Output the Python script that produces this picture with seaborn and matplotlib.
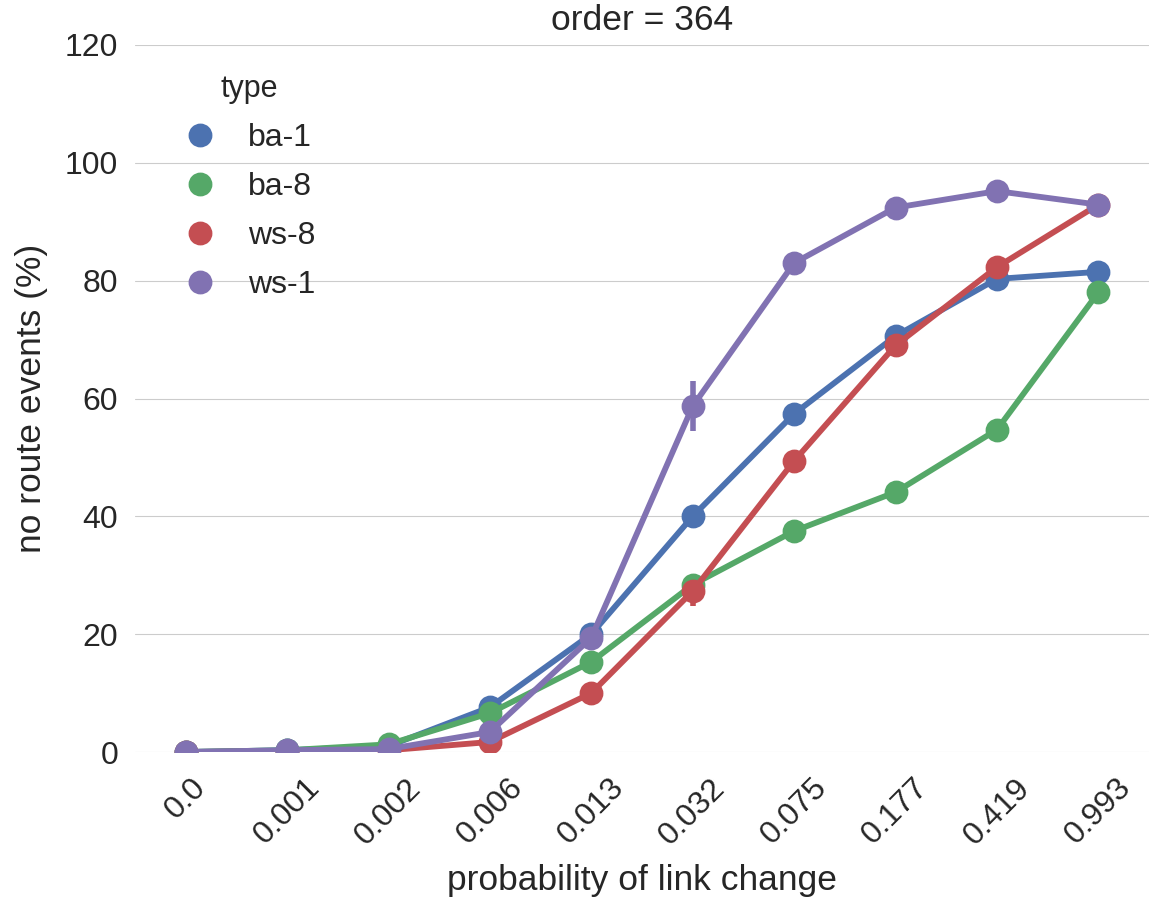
import numpy as np
import pandas as pd
import matplotlib
matplotlib.use("Agg")
import matplotlib.pyplot as plt
import seaborn as sns

probs = ["0.0", "0.001", "0.002", "0.006", "0.013", "0.032", "0.075", "0.177", "0.419", "0.993"]
types = ["ba-1", "ba-8", "ws-8", "ws-1"]

ba1 = [0.0, 0.3, 1.0, 7.6, 20.0, 40.0, 57.4, 70.6, 80.3, 81.5]
ba8 = [0.0, 0.3, 1.3, 6.6, 15.3, 28.4, 37.5, 44.1, 54.7, 78.0]
ws8 = [0.0, 0.1, 0.3, 1.7, 10.0, 27.3, 49.4, 69.0, 82.3, 92.9]
ws1 = [0.0, 0.3, 0.5, 3.4, 19.4, 58.7, 83.0, 92.4, 95.2, 92.9]

err_ba1 = [0, 0, 0, 0.5, 0.8, 0.8, 0.8, 0.8, 0.6, 0.5]
err_ba8 = [0, 0, 0, 0.5, 0.8, 1.2, 0.8, 0.8, 0.8, 0.6]
err_ws8 = [0, 0, 0, 0.4, 0.8, 2.5, 1.0, 0.8, 0.6, 0.4]
err_ws1 = [0, 0, 0, 0.5, 1.0, 4.2, 1.0, 0.6, 0.4, 0.4]

colors = ["#4C72B0", "#55A868", "#C44E52", "#8172B2"]

series = {"ba-1": ba1, "ba-8": ba8, "ws-8": ws8, "ws-1": ws1}
errs = {"ba-1": err_ba1, "ba-8": err_ba8, "ws-8": err_ws8, "ws-1": err_ws1}

rows = []
for t in types:
    for p, v in zip(probs, series[t]):
        rows.append({"probability of link change": p, "no route events (%)": v, "type": t})
df = pd.DataFrame(rows)

sns.set_style("whitegrid", {"grid.color": "#cccccc", "axes.edgecolor": "white"})
plt.rcParams["font.family"] = ["Liberation Sans", "DejaVu Sans"]

fig = plt.figure(figsize=(11.51, 9.01), dpi=100)
ax = fig.add_axes([135 / 1151, 1 - 752 / 901, (1149 - 135) / 1151, (752 - 45) / 901])

sns.pointplot(data=df, x="probability of link change", y="no route events (%)", hue="type",
              order=probs, hue_order=types, palette=colors, errorbar=None,
              markersize=14, linewidth=4.2, ax=ax)

for i, t in enumerate(types):
    m = np.array(series[t])
    e = np.array(errs[t])
    ax.vlines(np.arange(len(probs)), m - e, m + e, color=colors[i], linewidth=4, zorder=1)

for art in ax.lines + list(ax.collections):
    art.set_clip_on(True)
    art.set_clip_path(ax.patch)

ax.set_ylim(0, 120)
ax.set_xlim(-0.5, len(probs) - 0.5)
ax.set_yticks([0, 20, 40, 60, 80, 100, 120])
for s in ax.spines.values():
    s.set_visible(False)
ax.grid(axis="x", visible=False)
ax.tick_params(axis="both", length=0, labelsize=23, colors="#262626")
ax.tick_params(axis="y", pad=12)
ax.tick_params(axis="x", pad=15)
plt.setp(ax.get_xticklabels(), rotation=45)
ax.set_xlabel("probability of link change", fontsize=25.5, color="#262626", labelpad=10)
ax.set_ylabel("no route events (%)", fontsize=25.5, color="#262626", labelpad=12)
ax.set_title("order = 364", fontsize=25.5, color="#262626", pad=11)

leg = ax.legend(title="type", loc="upper left", bbox_to_anchor=(0.02, 1.0), frameon=False,
                fontsize=23, title_fontsize=22, markerscale=1.0, handlelength=1.0,
                handletextpad=1.0, labelspacing=0.6)
for h in leg.legend_handles:
    h.set_linestyle("none")
for txt in leg.get_texts():
    txt.set_color("#262626")
leg.get_title().set_color("#262626")

fig.savefig("out.png", dpi=100)
